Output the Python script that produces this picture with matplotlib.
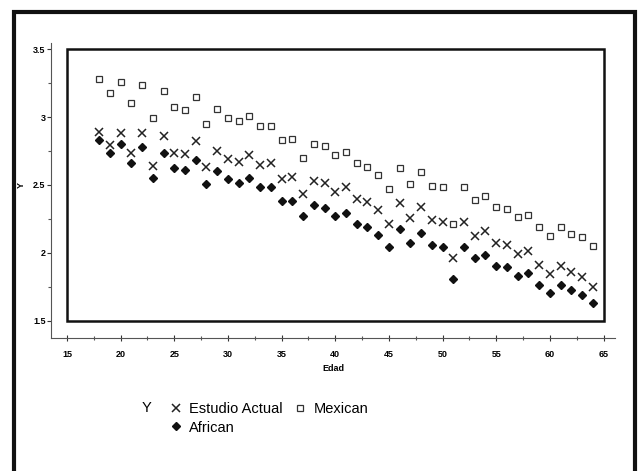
import matplotlib
matplotlib.use('Agg')
import matplotlib.pyplot as plt
from matplotlib.patches import Rectangle
import numpy as np

plt.rcParams['font.family'] = ['Liberation Sans', 'DejaVu Sans']

edad = list(range(18, 65))

mexican = [3.278, 3.177, 3.259, 3.101, 3.239, 2.995, 3.192, 3.074, 3.052, 3.145,
           2.948, 3.062, 2.995, 2.968, 3.007, 2.936, 2.938, 2.830, 2.835, 2.702,
           2.803, 2.786, 2.719, 2.741, 2.658, 2.631, 2.571, 2.468, 2.623, 2.505,
           2.596, 2.495, 2.483, 2.214, 2.483, 2.387, 2.421, 2.340, 2.325, 2.264,
           2.278, 2.187, 2.123, 2.190, 2.140, 2.116, 2.049]

estudio = [2.887, 2.796, 2.882, 2.734, 2.882, 2.640, 2.857, 2.739, 2.727, 2.823,
           2.635, 2.751, 2.692, 2.672, 2.717, 2.648, 2.663, 2.547, 2.562, 2.433,
           2.530, 2.515, 2.451, 2.485, 2.399, 2.377, 2.313, 2.209, 2.367, 2.254,
           2.340, 2.241, 2.224, 1.961, 2.229, 2.126, 2.158, 2.074, 2.059, 1.988,
           2.010, 1.911, 1.842, 1.906, 1.860, 1.820, 1.746]

african = [2.828, 2.736, 2.805, 2.658, 2.783, 2.554, 2.736, 2.623, 2.611, 2.682,
           2.507, 2.606, 2.544, 2.517, 2.552, 2.485, 2.485, 2.379, 2.379, 2.268,
           2.355, 2.328, 2.273, 2.293, 2.214, 2.187, 2.128, 2.044, 2.175, 2.069,
           2.148, 2.059, 2.044, 1.805, 2.044, 1.958, 1.983, 1.906, 1.897, 1.830,
           1.850, 1.764, 1.702, 1.759, 1.724, 1.692, 1.628]

W, H = 640, 471
fig = plt.figure(figsize=(6.4, 4.71), dpi=100)

# axes area in pixels: x 51..615, y 43..338 (from top)
ax = fig.add_axes([51 / W, (H - 338) / H, (615 - 51) / W, (338 - 43) / H])
ax.set_xlim(13.51, 66.07)
ax.set_ylim(1.372, 3.546)

ax.plot(edad, estudio, ls='none', marker='x', ms=6, mew=1.1, color='#222222',
        label='Estudio Actual')
ax.plot(edad, african, ls='none', marker='D', ms=3.8, color='#111111',
        label='African')
ax.plot(edad, mexican, ls='none', marker='s', ms=5, mew=0.9, mfc='white',
        mec='#333333', label='Mexican')

# thick box around the data region
ax.add_patch(Rectangle((15, 1.5), 50, 2, fill=False, lw=1.8, ec='#111111',
                       zorder=1))

for s in ['top', 'right']:
    ax.spines[s].set_visible(False)
for s in ['left', 'bottom']:
    ax.spines[s].set_color('#555555')
    ax.spines[s].set_linewidth(0.8)

ax.set_yticks([1.5, 2, 2.5, 3, 3.5])
ax.set_yticklabels(['1.5', '2', '2.5', '3', '3.5'])
ax.set_yticks(np.arange(1.75, 3.5, 0.5), minor=True)
ax.set_xticks(range(15, 66, 5))
ax.set_xticks(np.arange(17.5, 65, 5), minor=True)

ax.tick_params(axis='y', which='major', direction='out', length=3, width=0.8,
               color='#333333', labelsize=6.5, pad=1)
ax.tick_params(axis='y', which='minor', direction='out', length=2, width=0.8,
               color='#555555')
ax.tick_params(axis='x', which='major', direction='inout', length=5, width=0.8,
               color='#333333', labelsize=6.5, pad=6)
ax.tick_params(axis='x', which='minor', direction='inout', length=3, width=0.8,
               color='#555555')
for lab in ax.get_xticklabels() + ax.get_yticklabels():
    lab.set_fontweight('bold')

ax.set_xlabel('Edad', fontsize=6.5, fontweight='bold', labelpad=4)
fig.text(21 / W, 1 - 185 / H, 'Y', rotation=90, fontsize=6.5, fontweight='bold',
         ha='center', va='center')

# legend below the plot
handles, labels = ax.get_legend_handles_labels()
leg = fig.legend(handles, labels, ncol=2, frameon=False, fontsize=10.5,
                 loc='upper left', bbox_to_anchor=(157 / W, 1 - 389 / H),
                 handlelength=0.8, handletextpad=0.5, columnspacing=0.8,
                 labelspacing=0.3, markerscale=1.0)
fig.text(147 / W, 1 - 408 / H, 'Y', fontsize=10.5, ha='center', va='center')

# outer frame of the figure
fig.patches.append(Rectangle((14 / W, -0.1), (635 - 14) / W, 1.1 - 12 / H,
                             transform=fig.transFigure, fill=False, lw=3,
                             ec='#111111'))

fig.savefig('out.png', dpi=100)
